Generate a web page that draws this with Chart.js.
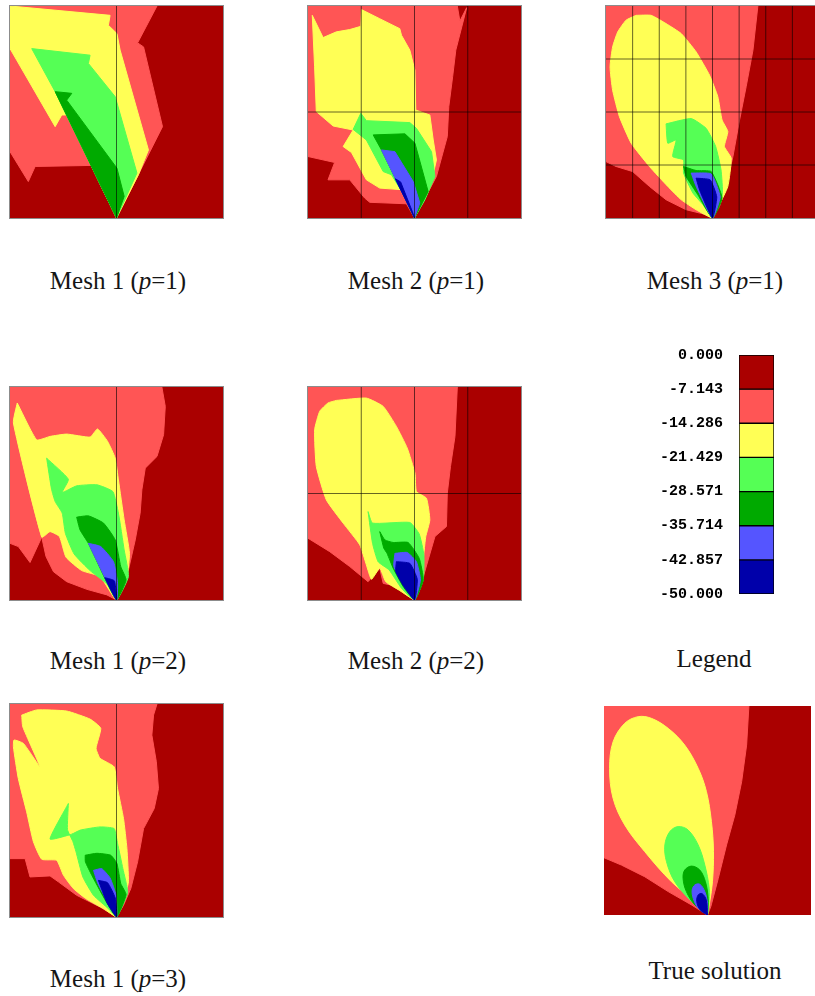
<!DOCTYPE html>
<html>
<head>
<meta charset="utf-8">
<script src="https://cdn.jsdelivr.net/npm/chart.js@4.4.1/dist/chart.umd.min.js"></script>
<style>
  html, body { margin: 0; padding: 0; overflow: hidden; background: #fff; }
  #page { position: relative; width: 815px; height: 996px; }
  canvas { position: absolute; }
  .framed { outline: 1px solid #8c8c8c; }
  .cap {
    position: absolute; width: 260px; text-align: center;
    font-family: "Liberation Serif", "Times New Roman", serif;
    font-size: 25px; line-height: 25px; color: #151515; white-space: nowrap;
  }
</style>
</head>
<body>
<div id="page">
  <canvas id="m1p1" class="framed" width="213" height="212" style="left:10px;top:6px"></canvas>
  <canvas id="m2p1" class="framed" width="213" height="212" style="left:308px;top:6px"></canvas>
  <canvas id="m3p1" class="framed" width="213" height="212" style="left:606px;top:6px"></canvas>
  <canvas id="m1p2" class="framed" width="213" height="213" style="left:10px;top:387px"></canvas>
  <canvas id="m2p2" class="framed" width="213" height="213" style="left:308px;top:387px"></canvas>
  <canvas id="legend" width="150" height="270" style="left:640px;top:340px"></canvas>
  <canvas id="m1p3" class="framed" width="213" height="213" style="left:10px;top:704px"></canvas>
  <canvas id="truth" width="207" height="209" style="left:604px;top:706px"></canvas>

  <div class="cap" style="left:-12px;top:268px">Mesh 1 (<i>p</i>=1)</div>
  <div class="cap" style="left:286px;top:268px">Mesh 2 (<i>p</i>=1)</div>
  <div class="cap" style="left:585px;top:268px">Mesh 3 (<i>p</i>=1)</div>
  <div class="cap" style="left:-12px;top:648px">Mesh 1 (<i>p</i>=2)</div>
  <div class="cap" style="left:286px;top:648px">Mesh 2 (<i>p</i>=2)</div>
  <div class="cap" style="left:584px;top:646px">Legend</div>
  <div class="cap" style="left:-12px;top:966px">Mesh 1 (<i>p</i>=3)</div>
  <div class="cap" style="left:585px;top:958px">True solution</div>
</div>

<script>
// contour levels (top of the colour bar first) and their fill colours
const levels = [0, -7.143, -14.286, -21.429, -28.571, -35.714, -42.857, -50];
const levelColors = ["#aa0000", "#ff5555", "#ffff55", "#55ff55", "#00aa00", "#5555ff", "#0000aa"];

// whole domain, x and y in percent of the square, re-entrant corner at (50, 0)
const domain = [[0, 0], [100, 0], [100, 100], [0, 100]];

// mesh lines
const mesh1Cols = [50], mesh1Rows = [];
const mesh2Cols = [25, 50, 75], mesh2Rows = [50];
const mesh3Cols = [12.5, 25, 37.5, 50, 62.5, 75, 87.5], mesh3Rows = [25, 50, 75];

// sub-level regions, one per level below 0 (u < -7.143, u < -14.286, ...)
// Mesh 1, p=1
const m1p1_l1 = [[0,100],[69,100],[59.9,82.6],[62.7,80.7],[71.6,43.1],[50,0],[38.1,24.8],[11.8,24.3],[8.6,17.2],[0,31.3]];
const m1p1_l2 = [[0,100],[47,95.6],[46.2,90.9],[50.2,87],[51.7,79.2],[65,32.1],[60.3,20.4],[50,0],[26.6,48.6],[24.3,48.6],[21.2,43.1],[0,79.9]];
const m1p1_l3 = [[10.2,79.9],[37.6,76.8],[36.8,72.9],[49.4,57.2],[59.6,21.2],[50,0],[21.2,59.6]];
const m1p1_l4 = [[21.2,59.6],[29,58.8],[26.6,55.6],[50.2,23.5],[53.6,10.2],[50,0]];

// Mesh 2, p=1
const m2p1_l1 = [[0,100],[70.1,100],[71.3,92.9],[74.5,99.2],[69.4,79.2],[67.9,66.6],[66.1,52.5],[65.4,38.4],[60.3,19.6],[50,0],[46.2,6.7],[29,7.4],[26.6,9.4],[19.6,18],[9.4,18],[12.5,26.2],[0,29]];
const m2p1_l2 = [[2,95.6],[7.1,85.1],[13.3,87.8],[19.6,88.9],[24.8,90.4],[25.1,98.3],[33.7,94],[43.1,89.3],[43.9,86.2],[47.8,79.2],[50.2,69.7],[50.6,50.9],[57.2,48.6],[58.8,36.8],[60.3,27.4],[58,17.2],[54.1,8.6],[50,0],[44.7,13.3],[33.7,14.1],[27.4,18],[20.4,30.9],[16.5,33.7],[21.2,41.5],[11.8,43.4],[3.9,50.2],[3.1,71.3]];
const m2p1_l3 = [[24.8,49.4],[27.4,45.9],[47.8,45],[50.9,42.3],[58,31.3],[59.6,19.6],[54.9,8.6],[50,0],[47.8,6.3],[39.2,20.4],[35.3,21.9],[27.4,36.8],[21.2,41.8]];
const m2p1_l4 = [[30.6,39.2],[45.5,39.7],[50.2,35.3],[56.4,12.5],[50,0],[34.5,32.1]];
const m2p1_l5 = [[34.5,32.1],[40.8,31.3],[49.4,17.2],[52.5,7.1],[50,0]];
const m2p1_l6 = [[41,18.5],[43.5,17],[49,3],[50,0]];

// Mesh 3, p=1
const m3p1_l1 = [[0,100],[71.3,100],[69,79.2],[65.8,61.9],[62.7,46.2],[59.6,29],[56.4,14.9],[53.3,5.5],[50,0],[47,1.6],[37.6,3.9],[28.2,8.6],[20.4,14.9],[12.5,21.9],[4.7,24.3],[0,26.6]];
const m3p1_l2 = [[14.1,95.6],[21.2,95.6],[28.2,91.7],[35.3,87],[42.3,78.4],[48.6,67.4],[52.5,57.2],[54.5,46.2],[57.2,40.8],[55.6,33.7],[58.8,28.2],[57.2,14.9],[52.5,4.7],[50,0],[42.3,3.9],[35.3,8.6],[29,14.9],[20.4,24.3],[11.8,35.3],[6.3,47.8],[3.1,60.3],[1.9,71.3],[3.1,80.7],[5.5,87.8],[9.4,93.3]];
const m3p1_l3 = [[28.2,44.4],[40,46.9],[47,42.3],[51.5,33.7],[54,22.7],[54.6,11],[50,0],[45.5,6.3],[40.8,11.8],[36.4,21.2],[36.4,27.4],[31.3,29],[32.9,36.8],[29,35.3]];
const m3p1_l4 = [[36.4,24.3],[42.3,22.4],[49.4,21.9],[54.5,9.4],[50,0],[43.1,11],[37.6,19.6]];
const m3p1_l5 = [[40,21.2],[49.4,20.8],[53.6,9.9],[50,0],[42.3,14.9]];
const m3p1_l6 = [[42.3,18.8],[48.9,18],[52,9.9],[50,0],[44.2,12.5]];

// Mesh 1, p=2
const m1p2_l1 = [[0,100],[71.3,100],[72.9,90.9],[72.1,77.6],[69,67.4],[63.5,61.9],[61.9,51.7],[61.1,40.8],[58.8,28.2],[55.6,14.1],[50,0],[45.5,2.4],[36.1,5],[26.6,8.6],[20.4,13.3],[16.9,20.4],[14.9,29.5],[9.4,17.6],[3.9,25.1],[0,26.6]];
const m1p2_l2 = [[3.4,92.5],[12.5,75.2],[18.8,76.8],[26.6,77.9],[37.6,76.5],[41.1,80.3],[45.8,74.5],[49.4,66.6],[50.9,56.4],[53.6,37.6],[56.1,21.9],[54.9,11],[50,0],[42.3,11],[33.7,13.8],[26.3,20.1],[23.2,29.8],[18.8,32.1],[14.9,29.5],[1.6,83.1]];
const m1p2_l3 = [[17.2,66.6],[27.4,56.7],[24.5,50.5],[31.3,53.6],[40.8,54.1],[48.3,50.9],[50.9,40.8],[53.6,23.5],[55.6,11],[50,0],[45.5,7.5],[37.6,13.8],[30.1,21.6],[26,31.3],[24.5,40.8],[21.2,46.2],[19.5,52]];
const m1p2_l4 = [[31.3,38.9],[36.8,39.5],[43.9,36.1],[49.4,28.2],[52,15.7],[54.5,9.4],[50,0],[36.8,26.6],[32.9,32.9]];
const m1p2_l5 = [[36.8,26.6],[42.6,25.1],[48.6,18],[50.5,7.8],[50,0]];
const m1p2_l6 = [[44.5,10.5],[49,9],[50,0]];

// Mesh 2, p=2
const m2p2_l1 = [[0,100],[70.1,100],[69,76.8],[66.9,62.7],[65.4,50.2],[65,34.5],[59.6,29.8],[56.4,18.8],[52.8,6.3],[50,0],[46.2,5.5],[35.3,7.8],[33.7,14.9],[28.2,8.6],[19.6,15.7],[10.2,22.7],[0,29]];
const m2p2_l2 = [[13.3,93.7],[27.4,94.8],[35.3,90.9],[41.5,81.5],[46.6,71.3],[50.2,59.6],[50.9,50.9],[55.6,47.8],[57.2,37.6],[55.3,29.8],[54.4,21.9],[53.3,11],[50,0],[43.1,4.4],[36.5,8.6],[33.7,14.9],[29.8,9.7],[27.4,16.5],[24.3,25.9],[16.5,36.1],[8.6,47],[3.9,62.7],[3.1,79.9],[5.5,88.6],[9.4,92.5]];
const m2p2_l3 = [[28.2,41.5],[30.3,36.1],[47.8,36.4],[52.2,31],[54.4,21.2],[54.1,9.4],[50,0],[43.9,5.5],[38.1,14.1],[32.9,18],[30.3,26.6]];
const m2p2_l4 = [[33.7,32.1],[36.1,28.2],[40,27],[47,27],[52.2,19.6],[54.1,9.4],[50,0],[44.7,6.3],[40,14.9],[37.1,21.9],[35.6,24.3]];
const m2p2_l5 = [[40.8,21.9],[46.6,22.3],[50.9,18],[52.8,9.4],[50,0],[44.7,7.5],[40.3,15.7]];
const m2p2_l6 = [[41.5,18],[47.8,17.2],[51.3,9.7],[50,0],[45,6.3],[41.2,13.3]];

// Mesh 1, p=3
const m1p3_l1 = [[0,100],[69,100],[67.4,94.8],[66.6,85.4],[68.7,72.9],[69.7,60.3],[67.7,50.9],[62.7,41.5],[59.9,25.9],[56.7,13.3],[53.3,5.5],[50,0],[42.3,4.7],[31.3,10.2],[22.7,16.5],[18.8,19.3],[9.4,18.8],[7.1,27.4],[0,27.4]];
const m1p3_l2 = [[5.5,94.8],[12.5,97.2],[26.6,96.7],[37.6,92.9],[42.6,88.6],[40.4,79.2],[42.3,74.5],[48.9,70.5],[50.5,60.3],[53.3,46.2],[54.9,32.1],[55.6,16.5],[53.6,8.6],[50,0],[43.9,3.9],[36.1,8.3],[29.8,13.3],[25.1,19.6],[21.9,26.6],[14.9,27.1],[11,35.3],[7.8,49.4],[3.9,65],[1.6,79.9],[1.9,83.1],[6.3,81.5],[14.1,70.5],[6,89.3]];
const m1p3_l3 = [[27.4,53.3],[18.8,36.6],[29,38.9],[33,40.8],[42.3,42.3],[48.9,41.5],[50.5,34.5],[53,22.7],[55.2,11.4],[50,0],[46.2,3.9],[39.2,10.2],[34.2,18.8],[31,30.6],[29.5,35.5],[27,41]];
const m1p3_l4 = [[35.3,29],[40.8,29.9],[47.3,29],[50.2,25.1],[52,15.7],[54.5,10.5],[50,0],[43.9,9.4],[38.4,19.6],[35.4,25.9]];
const m1p3_l5 = [[39.2,21.9],[43.1,22.7],[47,18.3],[49.8,10.2],[50,0],[45.1,8.3],[41.1,16.1]];
const m1p3_l6 = [[41.5,17.2],[45.8,16.1],[49.4,8.9],[50,0],[45.5,6.7]];

// True solution
const true_l1 = [[0,100],[70,100],[68.9,81.3],[66.5,63.8],[63.2,47.8],[59.2,33.5],[55.2,17.5],[51.6,4],[50,0],[42.3,4.8],[31,11.2],[19.7,18.3],[8.4,23.9],[0,27.4]];
const true_l2 = [[50,0],[43.9,6.4],[32.6,15.9],[19.7,30.3],[10,43.1],[4.4,55.8],[2.7,70.2],[4.4,82.9],[10,91.7],[16.5,94.9],[22.9,94.1],[31,89.3],[39,81.3],[45.5,70.2],[49.5,59],[51.9,44.7],[52.9,30.3],[52.4,15.9],[51.1,6.4]];
const true_l3 = [[50,0],[42.3,6.4],[34.2,15.9],[30.2,25.5],[29.4,33.5],[31.8,39.9],[35.8,42.3],[40.6,40.7],[45.5,33.5],[48.7,23.9],[50.8,12.8],[50.6,4.8]];
const true_l4 = [[50,0],[43.9,4.8],[39.8,11.2],[38.2,17.5],[39,21.5],[42.3,23.4],[46.3,21.5],[49,15.9],[50.3,8]];
const true_l5 = [[50,0],[45.5,3.2],[43.1,8],[42.6,12],[43.9,14.4],[46.3,14.7],[48.7,11.2],[50,5.6]];
const true_l6 = [[50,0],[46.5,2.4],[44.8,6.4],[45.5,9.6],[47.4,10.2],[49.4,7.2]];

function regionDataset(pts, color, tension) {
  return {
    data: pts.concat([pts[0]]).map(([x, y]) => ({ x, y })),
    showLine: true,
    fill: "shape",
    backgroundColor: color,
    borderColor: color,
    borderWidth: 1,
    pointRadius: 0,
    tension: tension
  };
}

function meshLine(a, b) {
  return {
    data: [{ x: a[0], y: a[1] }, { x: b[0], y: b[1] }],
    showLine: true,
    fill: false,
    borderColor: "rgba(0,0,0,0.6)",
    borderWidth: 1,
    pointRadius: 0
  };
}

function drawPanel(id, layers, cols, rows, tension) {
  const datasets = [];
  // first dataset ends up on top, so mesh first, then deepest level
  cols.forEach((c) => datasets.push(meshLine([c, 0], [c, 100])));
  rows.forEach((r) => datasets.push(meshLine([0, r], [100, r])));
  for (let i = layers.length - 1; i >= 0; i--) {
    if (layers[i]) datasets.push(regionDataset(layers[i], levelColors[i + 1], i === 0 ? 0 : tension));
  }
  datasets.push(regionDataset(domain, levelColors[0], 0));

  new Chart(document.getElementById(id), {
    type: "scatter",
    data: { datasets },
    options: {
      responsive: false,
      animation: false,
      events: [],
      layout: { padding: 0 },
      plugins: { legend: { display: false }, tooltip: { enabled: false } },
      scales: {
        x: { type: "linear", min: 0, max: 100, display: false },
        y: { type: "linear", min: 0, max: 100, display: false }
      }
    }
  });
}

drawPanel("m1p1", [m1p1_l1, m1p1_l2, m1p1_l3, m1p1_l4], mesh1Cols, mesh1Rows, 0);
drawPanel("m2p1", [m2p1_l1, m2p1_l2, m2p1_l3, m2p1_l4, m2p1_l5, m2p1_l6], mesh2Cols, mesh2Rows, 0);
drawPanel("m3p1", [m3p1_l1, m3p1_l2, m3p1_l3, m3p1_l4, m3p1_l5, m3p1_l6], mesh3Cols, mesh3Rows, 0.15);
drawPanel("m1p2", [m1p2_l1, m1p2_l2, m1p2_l3, m1p2_l4, m1p2_l5, m1p2_l6], mesh1Cols, mesh1Rows, 0.15);
drawPanel("m2p2", [m2p2_l1, m2p2_l2, m2p2_l3, m2p2_l4, m2p2_l5, m2p2_l6], mesh2Cols, mesh2Rows, 0.15);
drawPanel("m1p3", [m1p3_l1, m1p3_l2, m1p3_l3, m1p3_l4, m1p3_l5, m1p3_l6], mesh1Cols, mesh1Rows, 0.15);
drawPanel("truth", [true_l1, true_l2, true_l3, true_l4, true_l5, true_l6], [], [], 0.35);

// colour bar
new Chart(document.getElementById("legend"), {
  type: "bar",
  data: {
    labels: [""],
    datasets: levelColors.map((c, i) => ({
      data: [[levels[i + 1], levels[i]]],
      backgroundColor: c,
      borderColor: "#000",
      borderWidth: 1,
      borderSkipped: false,
      grouped: false,
      barPercentage: 1,
      categoryPercentage: 1
    }))
  },
  options: {
    responsive: false,
    animation: false,
    events: [],
    layout: { padding: { top: 15, right: 16, bottom: 16, left: 0 } },
    plugins: { legend: { display: false }, tooltip: { enabled: false } },
    scales: {
      x: { display: false },
      y: {
        min: -50,
        max: 0,
        grid: { display: false, drawTicks: false },
        border: { display: false },
        afterBuildTicks: (scale) => {
          scale.ticks = levels.map((v) => ({ value: v }));
        },
        afterFit: (scale) => {
          scale.width = 99;
          scale.paddingTop = 0;
          scale.paddingBottom = 0;
        },
        ticks: {
          autoSkip: false,
          padding: 16,
          color: "#000",
          font: { family: "Liberation Mono", size: 15, weight: "bold" },
          callback: (v) => Number(v).toFixed(3)
        }
      }
    }
  }
});
</script>
</body>
</html>
